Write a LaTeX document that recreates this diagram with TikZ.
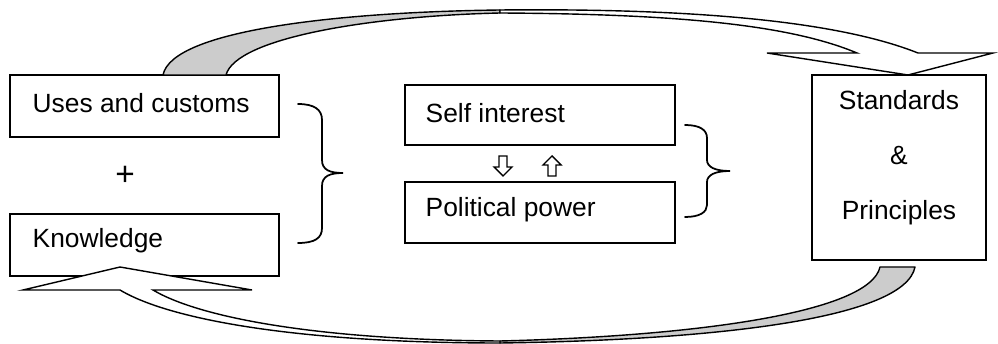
\documentclass[tikz,border=0pt]{standalone}
\usepackage{fontspec}
\setmainfont{Liberation Sans}
\begin{document}
\begin{tikzpicture}[x=0.02cm,y=-0.02cm,line width=0.8pt,
  box/.style={draw,rectangle,inner sep=0pt},
  lbl/.style={font=\fontsize{15pt}{18pt}\selectfont,inner sep=0pt,anchor=west},
  bandgray/.style={draw,fill=black!20,line join=round},
  bandwhite/.style={draw,fill=white,line join=miter},
  blockarrow/.style={draw,line join=miter},
  bracestyle/.style={draw,line width=1pt,line cap=round}]
\useasboundingbox (0,0) rectangle (998,344);
% boxes
\node[box,minimum width=5.38cm,minimum height=1.24cm] (uses) at (144.5,106) {};
\node[box,minimum width=5.38cm,minimum height=1.24cm] (know) at (144.5,245) {};
\node[box,minimum width=5.4cm,minimum height=1.2cm] (self) at (540,115) {};
\node[box,minimum width=5.4cm,minimum height=1.22cm] (pol) at (540,212.5) {};
\node[box,minimum width=3.48cm,minimum height=3.7cm] (std) at (899,167.5) {};
% labels
\node[lbl] (tuses) at (32,103) {Uses and customs};
\node[lbl] (tknow) at (32,241) {Knowledge};
\node[lbl] (tself) at (425,113) {Self interest};
\node[lbl] (tpol) at (425,210) {Political power};
\node[font=\fontsize{19pt}{22pt}\selectfont,inner sep=0pt] (plus) at (125,176) {+};
\node[font=\fontsize{15pt}{31.2pt}\selectfont,inner sep=0pt,align=center] (tstd) at (899,158) {Standards\\\&\\Principles};
% top curved arrow: gray part
\path[bandgray] (163,75) .. controls (172,30) and (340,12) .. (500,10)
  -- (500,13) .. controls (370,16) and (236,38) .. (226,75) -- cycle;
% top curved arrow: white part with head
\path[bandwhite] (500,10) .. controls (700,8) and (840,22) .. (918,53)
  -- (993,53) -- (908,75) -- (767,53) -- (857,53)
  .. controls (790,25) and (680,14) .. (500,13) -- cycle;
% bottom curved arrow: gray part
\path[bandgray] (915,267) .. controls (905,318) and (720,340) .. (500,343)
  -- (500,341) .. controls (700,336) and (870,312) .. (880,267) -- cycle;
% bottom curved arrow: white part with head
\path[bandwhite] (500,343) .. controls (300,343) and (170,320) .. (120,290)
  -- (23,290) -- (120,267) -- (252,290) -- (153,290)
  .. controls (200,318) and (320,340) .. (500,341) -- cycle;
% small block arrows
\path[blockarrow] (499,156) -- (507,156) -- (507,167) -- (512,167) -- (503,176) -- (494,167) -- (499,167) -- cycle;
\path[blockarrow] (548,176) -- (556,176) -- (556,165) -- (561,165) -- (552,156) -- (543,165) -- (548,165) -- cycle;
% braces
\path[bracestyle] (298,104) .. controls (315,104) and (322,110) .. (322,120) -- (322,160)
  .. controls (322,170) and (330,173) .. (343,173)
  .. controls (330,173) and (322,176) .. (322,186) -- (322,228)
  .. controls (322,238) and (315,243) .. (298,243);
\path[bracestyle] (685,125) .. controls (700,125) and (707,130) .. (707,138) -- (707,160)
  .. controls (707,167) and (715,171) .. (730,171)
  .. controls (715,171) and (707,175) .. (707,182) -- (707,205)
  .. controls (707,212) and (700,217) .. (685,217);
\end{tikzpicture}
\end{document}
